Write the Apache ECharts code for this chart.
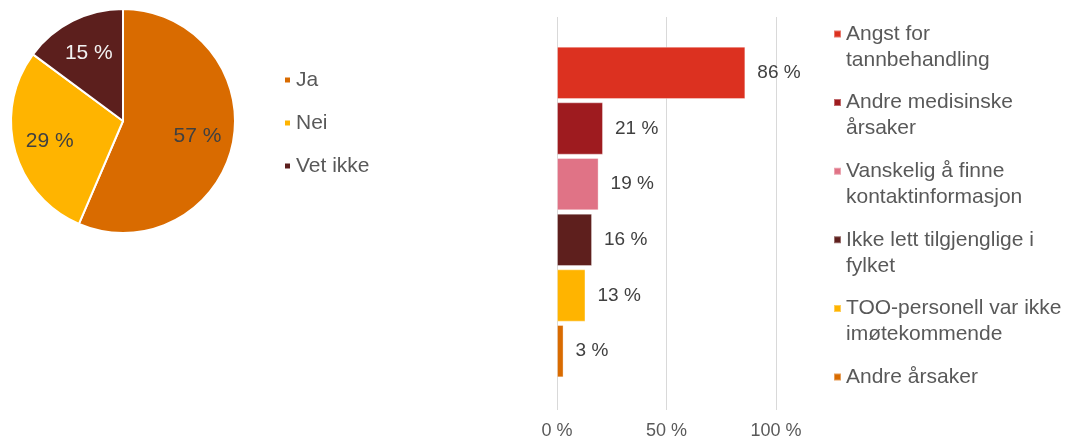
<!DOCTYPE html>
<html>
<head>
<meta charset="utf-8">
<script src="https://cdn.jsdelivr.net/npm/echarts@6/dist/echarts.min.js"></script>
<style>
html,body{margin:0;padding:0;background:#fff;}
#chart{width:1077px;height:442px;}
</style>
</head>
<body>
<div id="chart"></div>
<script>
// ---- data ----
const pieCategories = ['Ja', 'Nei', 'Vet ikke'];
const pieValues = [57, 29, 15];
const barCategories = [
  'Angst for\ntannbehandling',
  'Andre medisinske\nårsaker',
  'Vanskelig å finne\nkontaktinformasjon',
  'Ikke lett tilgjenglige i\nfylket',
  'TOO-personell var ikke\nimøtekommende',
  'Andre årsaker'
];
const barValues = [86, 21, 19, 16, 13, 3];
const xTickValues = [0, 50, 100];

// ---- styles ----
const pieColors = ['#D96B00', '#FFB400', '#5C1F1D'];
const pieLabelColors = ['#404040', '#404040', '#F2F2F2'];
const barColors = ['#DC3120', '#9E1B1F', '#E07386', '#5E1F1D', '#FFB400', '#D96B00'];
const FONT = '"Liberation Sans", Arial, sans-serif';
const TXT = '#595959';

const total = pieValues.reduce((a, b) => a + b, 0);
let acc = 0;
const pieData = pieValues.map((v, i) => {
  const mid = (acc + v / 2) / total * 2 * Math.PI;
  acc += v;
  const k = 17;
  return {
    name: pieCategories[i],
    value: v,
    itemStyle: { color: pieColors[i] },
    label: { color: pieLabelColors[i], offset: [Math.sin(mid) * k, -Math.cos(mid) * k] }
  };
});

const iconTop = 'path://M0,0h7v7h-7z M0,33h0.01v0.01h-0.01z';

const barSeries = barCategories.map((name, i) => ({
  name: name,
  type: 'bar',
  stack: 'all',
  xAxisIndex: 0,
  yAxisIndex: 0,
  barCategoryGap: '6%',
  itemStyle: { color: barColors[i], borderColor: 'rgba(255,255,255,0.35)', borderWidth: 1 },
  label: {
    show: true, position: 'right', distance: 12,
    formatter: '{c} %', color: '#404040', fontSize: 19, fontFamily: FONT
  },
  data: barValues.map((v, j) => (j === i ? v : '-'))
}));

const chart = echarts.init(document.getElementById('chart'), null, { renderer: 'canvas' });
chart.setOption({
  animation: false,
  textStyle: { fontFamily: FONT },
  legend: [
    {
      orient: 'vertical', left: 283, top: 68, padding: 0, itemGap: 19,
      itemWidth: 7, itemHeight: 7, icon: 'rect',
      textStyle: { fontSize: 21, lineHeight: 24, color: TXT, fontFamily: FONT },
      data: pieCategories
    },
    {
      orient: 'vertical', left: 833, top: 21, padding: 0, itemGap: 16.6,
      itemWidth: 7, itemHeight: 33, icon: iconTop,
      textStyle: { fontSize: 21, lineHeight: 26, color: TXT, fontFamily: FONT },
      formatter: n => (n.indexOf('\n') >= 0 ? n : n + '\n '),
      data: barCategories
    }
  ],
  grid: [
    { left: 557, width: 219, top: 45, height: 334 },
    { left: 557, width: 219, top: 17, height: 393 }
  ],
  xAxis: [
    { gridIndex: 0, type: 'value', min: xTickValues[0], max: xTickValues[xTickValues.length - 1], show: false },
    {
      gridIndex: 1, type: 'value', min: xTickValues[0], max: xTickValues[xTickValues.length - 1],
      interval: xTickValues[1] - xTickValues[0],
      axisLine: { show: false }, axisTick: { show: false },
      splitLine: { show: true, lineStyle: { color: '#D9D9D9', width: 1 } },
      axisLabel: { formatter: '{value} %', color: TXT, fontSize: 18, fontFamily: FONT, margin: 12 }
    }
  ],
  yAxis: [
    { gridIndex: 0, type: 'category', inverse: true, data: barCategories, show: false },
    { gridIndex: 1, type: 'value', min: 0, max: 1, show: false }
  ],
  series: [
    {
      type: 'pie',
      center: [123, 121],
      radius: 112,
      startAngle: 90,
      clockwise: true,
      itemStyle: { borderColor: '#fff', borderWidth: 2 },
      label: { show: true, position: 'inside', formatter: '{c} %', fontSize: 21, fontFamily: FONT },
      labelLine: { show: false },
      emphasis: { disabled: true },
      data: pieData
    }
  ].concat(barSeries)
});
</script>
</body>
</html>
